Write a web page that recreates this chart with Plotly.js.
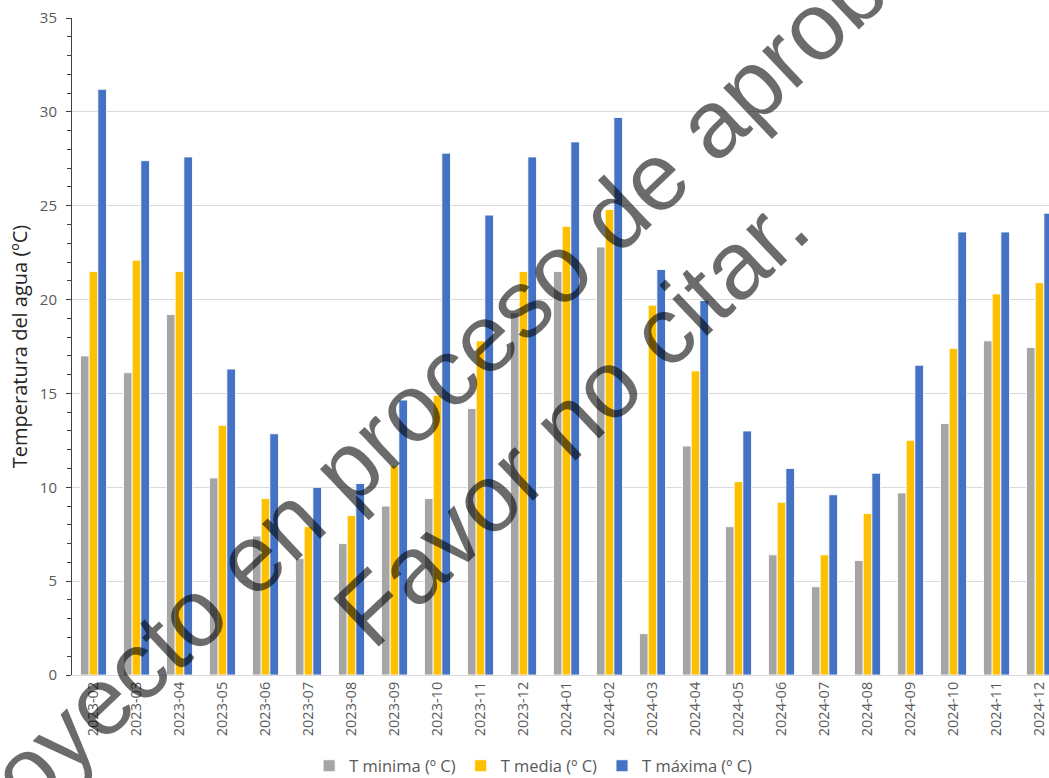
<!DOCTYPE html>
<html>
<head>
<meta charset="utf-8">
<script src="https://cdn.plot.ly/plotly-3.0.1.min.js"></script>
<style>
html,body{margin:0;padding:0;overflow:hidden;background:#fff;}
#chart{width:1049px;height:795px;}
</style>
</head>
<body>
<div id="chart"></div>
<script>
const categories = ["2023-02","2023-03","2023-04","2023-05","2023-06","2023-07","2023-08","2023-09","2023-10","2023-11","2023-12",
  "2024-01","2024-02","2024-03","2024-04","2024-05","2024-06","2024-07","2024-08","2024-09","2024-10","2024-11","2024-12"];
const tMin   = [17.0,16.1,19.2,10.5,7.4,6.2,7.0,9.0,9.4,14.2,19.3,21.5,22.8,2.2,12.2,7.9,6.4,4.7,6.1,9.7,13.4,17.8,17.45];
const tMedia = [21.5,22.1,21.5,13.3,9.4,7.9,8.5,11.15,14.9,17.8,21.5,23.9,24.8,19.7,16.2,10.3,9.2,6.4,8.6,12.5,17.4,20.3,20.9];
const tMax   = [31.2,27.4,27.6,16.3,12.85,10.0,10.2,14.65,27.8,24.5,27.6,28.4,29.7,21.6,19.95,13.0,11.0,9.6,10.75,16.5,23.6,23.6,24.6];
const seriesNames = ["T minima (º C)","T media (º C)","T máxima (º C)"];
const yTitle = "Temperatura del agua (ºC)";
const watermark1 = "Proyecto en proceso de aprobación.";
const watermark2 = "Favor no citar.";

const colors = ["#A5A5A5","#FFC000","#4472C4"];
const vals = [tMin, tMedia, tMax];
const traces = vals.map((v,i)=>({
  type:'bar', x:categories, y:v, name:seriesNames[i],
  marker:{color:colors[i], line:{color:'rgba(255,255,255,0.85)', width:1}},
  hoverinfo:'x+y'
}));

const font = "'Open Sans', 'Noto Sans', sans-serif";
const layout = {
  width:1049, height:795,
  margin:{l:72, r:0, t:18, b:120},
  paper_bgcolor:'#fff', plot_bgcolor:'#fff',
  barmode:'group', bargap:0.395, bargroupgap:0,
  font:{family:font, color:'#595959', size:14},
  showlegend:true,
  legend:{orientation:'h', x:0.472, xanchor:'center', y:-0.1385, yanchor:'middle',
    font:{family:font, size:16.5, color:'#595959'}, itemwidth:30, traceorder:'normal'},
  xaxis:{type:'category', range:[-0.5,22.22], tickangle:-90, showgrid:false,
    showline:true, linecolor:'#d9d9d9', linewidth:1, ticks:'', zeroline:false,
    tickfont:{family:font, size:14.5, color:'#595959'}},
  yaxis:{range:[0,35], dtick:5, showgrid:true, gridcolor:'#d9d9d9', gridwidth:1,
    showline:true, linecolor:'#404040', linewidth:1, ticks:'outside', ticklen:5, tickcolor:'#404040',
    zeroline:false, ticklabelstandoff:6,
    minor:{dtick:1, ticks:'outside', ticklen:4, tickcolor:'#404040', showgrid:false},
    tickfont:{family:font, size:15, color:'#595959'},
    title:{text:yTitle, font:{family:font, size:20, color:'#262626'}, standoff:6}},
  annotations:[
    {text:watermark1, xref:'paper', yref:'paper', x:0.434, y:0.530, xanchor:'center', yanchor:'middle',
     showarrow:false, textangle:-43.4, font:{family:"'Liberation Sans', Arial, sans-serif", size:96, color:'rgba(0,0,0,0.58)'}},
    {text:watermark2, xref:'paper', yref:'paper', x:0.511, y:0.390, xanchor:'center', yanchor:'middle',
     showarrow:false, textangle:-43.4, font:{family:"'Liberation Sans', Arial, sans-serif", size:96, color:'rgba(0,0,0,0.58)'}}
  ]
};
Plotly.newPlot('chart', traces, layout, {displayModeBar:false, staticPlot:true});
</script>
</body>
</html>
